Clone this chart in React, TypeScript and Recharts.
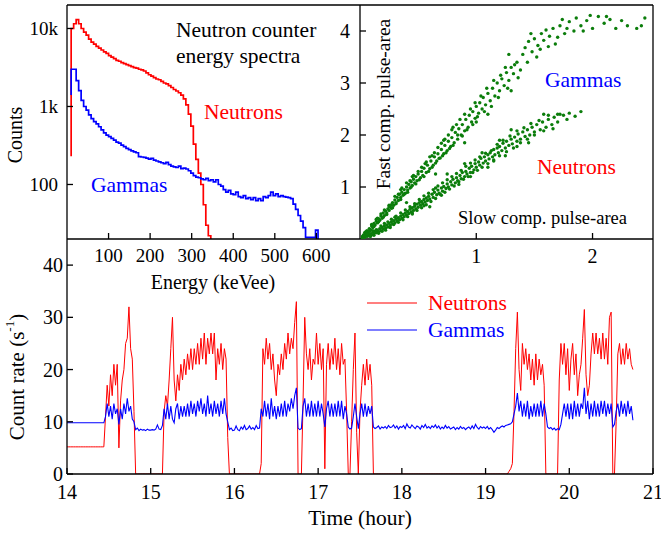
import React from "react";
import { LineChart, Line, ScatterChart, Scatter, XAxis, YAxis } from "recharts";

const SERIF = '"Liberation Serif", "Times New Roman", serif';
const W = 661;
const H = 534;
const RED = "#ff0000";
const BLUE = "#0000ff";
const GREEN = "#0b7d0b";

// ---------- energy spectra: counts per 6 keVee bin, first bin at 10 keVee
const binStart = 10;
const binWidth = 6;
const neutronEdge = 230; // level just below the threshold edge
const gammaEdge = 1400;
const neutronCounts = [
  10000, 11500, 13000, 11500, 10000, 9000, 8200, 7300, 6700, 6300,
  5900, 5600, 5300, 5000, 4800, 4500, 4300, 4100, 3900, 3800,
  3650, 3550, 3450, 3350, 3250, 3150, 3100, 3000, 2950, 2850,
  2700, 2550, 2450, 2350, 2250, 2200, 2100, 2000, 1950, 1850,
  1750, 1650, 1580, 1500, 1400, 1250, 1050, 800, 560, 330,
  210, 140, 100, 55, 30, 22, 15,
];
const gammaCounts = [
  3000, 3000, 2150, 1600, 1200, 1000, 900, 780, 700, 640,
  600, 550, 500, 460, 430, 410, 390, 370, 350, 340,
  320, 305, 290, 280, 270, 262, 255, 228, 225, 222,
  218, 212, 216, 205, 200, 195, 190, 185, 192, 180,
  172, 168, 165, 172, 160, 162, 158, 150, 140, 130,
  124, 122, 118, 115, 120, 112, 115, 108, 115, 100,
  95, 86, 80, 84, 76, 74, 80, 70, 68, 72,
  66, 68, 64, 68, 62, 66, 62, 70, 68, 72,
  80, 72, 76, 70, 72, 70, 69, 68, 66, 56,
  48, 40, 34, 28, 21, 21, 21, 21, 26, 15,
];
const energyTicks = [100, 200, 300, 400, 500, 600];
const countTicks = [100, 1000, 10000];

// ---------- pulse-shape discrimination scatter [slow, fast]
const gammaPulses: [number, number][] = [
  [0.02, 0.05], [0.03, 0.08], [0.04, 0.12], [0.05, 0.1], [0.06, 0.16], [0.07, 0.14], [0.08, 0.2], [0.09, 0.18],
  [0.1, 0.25], [0.11, 0.22], [0.12, 0.3], [0.13, 0.27], [0.14, 0.34], [0.15, 0.31], [0.16, 0.39], [0.17, 0.36],
  [0.18, 0.44], [0.19, 0.4], [0.2, 0.5], [0.21, 0.45], [0.22, 0.54], [0.23, 0.5], [0.24, 0.58], [0.25, 0.55],
  [0.26, 0.64], [0.27, 0.59], [0.28, 0.7], [0.29, 0.65], [0.3, 0.75], [0.31, 0.7], [0.32, 0.8], [0.33, 0.74],
  [0.34, 0.86], [0.35, 0.8], [0.36, 0.9], [0.37, 0.84], [0.38, 0.95], [0.39, 0.88], [0.4, 1.0], [0.41, 0.94],
  [0.42, 1.05], [0.43, 0.98], [0.44, 1.1], [0.45, 1.03], [0.46, 1.15], [0.47, 1.08], [0.48, 1.2], [0.49, 1.12],
  [0.5, 1.25], [0.52, 1.18], [0.53, 1.3], [0.54, 1.22], [0.55, 1.36], [0.57, 1.28], [0.58, 1.42], [0.6, 1.35],
  [0.61, 1.5], [0.63, 1.42], [0.64, 1.58], [0.66, 1.5], [0.67, 1.64], [0.69, 1.56], [0.7, 1.72], [0.72, 1.64],
  [0.73, 1.8], [0.75, 1.7], [0.76, 1.88], [0.78, 1.78], [0.79, 1.95], [0.81, 1.85], [0.82, 2.05], [0.84, 1.92],
  [0.85, 2.12], [0.87, 2.0], [0.88, 2.2], [0.9, 2.08], [0.91, 2.3], [0.93, 2.15], [0.94, 2.38], [0.96, 2.25],
  [0.97, 2.45], [0.99, 2.32], [1.0, 2.55], [1.02, 2.42], [1.03, 2.62], [1.05, 2.5], [1.06, 2.72], [1.08, 2.58],
  [1.1, 2.8], [1.12, 2.66], [1.14, 2.9], [1.16, 2.75], [1.18, 3.0], [1.2, 2.85], [1.22, 3.08], [1.24, 2.95],
  [1.26, 3.2], [1.28, 3.05], [1.3, 3.3], [1.32, 3.18], [1.35, 3.4], [1.38, 3.25], [1.4, 3.55], [1.42, 3.68],
  [1.45, 3.8], [1.48, 3.6], [1.5, 3.85], [1.53, 3.72], [1.56, 3.95], [1.58, 3.82], [1.6, 4.02], [1.63, 3.9],
  [1.66, 4.05], [1.68, 3.75], [1.72, 4.1], [1.76, 3.95], [1.8, 4.18], [1.84, 4.0], [1.86, 4.25], [1.9, 4.1],
  [1.95, 4.2], [2.0, 4.05], [2.05, 4.28], [2.1, 4.15], [2.15, 4.22], [2.2, 4.05], [2.3, 4.1], [2.45, 4.25],
  [2.42, 4.1], [1.28, 3.55], [1.1, 2.4], [0.9, 1.85], [0.65, 1.25], [1.3, 2.85], [1.25, 3.3], [0.56, 1.45],
  [0.45, 1.2], [0.35, 0.95], [0.62, 1.6], [0.8, 2.15], [1.0, 2.25], [0.72, 1.9], [0.25, 0.65], [0.15, 0.4],
  [0.05, 0.14], [0.08, 0.15], [0.1, 0.28], [0.12, 0.24], [0.14, 0.38], [0.16, 0.33], [0.18, 0.48], [0.2, 0.42],
  [0.21, 0.56], [0.23, 0.47], [0.25, 0.62], [0.27, 0.66], [0.28, 0.6], [0.3, 0.82], [0.31, 0.68], [0.33, 0.86],
  [0.35, 0.76], [0.36, 0.98], [0.38, 0.86], [0.4, 1.08], [0.41, 0.9], [0.43, 1.12], [0.44, 1.0], [0.46, 1.22],
  [0.48, 1.06], [0.5, 1.3], [0.51, 1.14], [0.53, 1.38], [0.55, 1.2], [0.57, 1.48], [0.59, 1.3], [0.6, 1.58],
  [0.62, 1.38], [0.64, 1.66], [0.65, 1.46], [0.67, 1.76], [0.68, 1.55], [0.7, 1.84], [0.71, 1.6], [0.73, 1.92],
  [0.74, 1.66], [0.76, 2.0], [0.77, 1.74], [0.79, 2.1], [0.8, 1.8], [0.83, 2.2], [0.84, 2.0], [0.86, 2.3],
  [0.88, 1.98], [0.9, 2.4], [0.92, 2.1], [0.95, 2.5], [0.97, 2.2], [0.99, 2.62], [1.01, 2.35], [1.04, 2.75],
  [1.07, 2.45], [1.09, 2.9], [1.13, 2.55], [1.15, 3.05], [1.19, 2.72], [1.21, 3.15], [1.27, 2.9], [1.33, 3.35],
  [1.36, 3.1], [1.44, 3.4], [1.52, 3.5], [1.62, 3.7], [1.7, 3.88], [1.78, 4.05], [1.92, 4.0], [2.12, 4.28],
  [2.25, 4.2], [2.38, 4.05], [1.55, 3.65], [1.47, 3.95], [1.74, 4.22], [1.98, 4.3],
];
const neutronPulses: [number, number][] = [
  [0.02, 0.02], [0.03, 0.05], [0.04, 0.03], [0.05, 0.07], [0.06, 0.05], [0.07, 0.09], [0.08, 0.06], [0.09, 0.1],
  [0.1, 0.08], [0.11, 0.13], [0.12, 0.1], [0.13, 0.15], [0.14, 0.12], [0.15, 0.17], [0.16, 0.14], [0.17, 0.2],
  [0.18, 0.16], [0.19, 0.22], [0.2, 0.19], [0.21, 0.25], [0.22, 0.21], [0.23, 0.27], [0.24, 0.23], [0.25, 0.3],
  [0.26, 0.26], [0.27, 0.33], [0.28, 0.29], [0.29, 0.35], [0.3, 0.31], [0.31, 0.38], [0.32, 0.34], [0.33, 0.41],
  [0.34, 0.37], [0.35, 0.44], [0.36, 0.4], [0.37, 0.47], [0.38, 0.43], [0.39, 0.5], [0.4, 0.46], [0.41, 0.53],
  [0.42, 0.49], [0.43, 0.57], [0.44, 0.52], [0.45, 0.6], [0.46, 0.55], [0.47, 0.63], [0.48, 0.58], [0.49, 0.67],
  [0.5, 0.61], [0.51, 0.7], [0.52, 0.65], [0.53, 0.72], [0.54, 0.68], [0.55, 0.76], [0.56, 0.71], [0.57, 0.79],
  [0.58, 0.74], [0.59, 0.82], [0.6, 0.77], [0.62, 0.86], [0.63, 0.8], [0.64, 0.9], [0.66, 0.85], [0.67, 0.94],
  [0.68, 0.88], [0.7, 0.98], [0.71, 0.92], [0.72, 1.01], [0.74, 0.97], [0.75, 1.06], [0.76, 1.0], [0.78, 1.1],
  [0.79, 1.04], [0.8, 1.15], [0.82, 1.08], [0.83, 1.18], [0.84, 1.12], [0.86, 1.22], [0.87, 1.16], [0.88, 1.28],
  [0.9, 1.2], [0.91, 1.3], [0.92, 1.25], [0.94, 1.36], [0.95, 1.28], [0.96, 1.4], [0.98, 1.33], [0.99, 1.45],
  [1.0, 1.38], [1.02, 1.48], [1.03, 1.42], [1.04, 1.55], [1.06, 1.46], [1.07, 1.58], [1.08, 1.5], [1.1, 1.62],
  [1.11, 1.54], [1.12, 1.66], [1.14, 1.58], [1.15, 1.72], [1.16, 1.62], [1.18, 1.75], [1.19, 1.66], [1.2, 1.78],
  [1.22, 1.7], [1.23, 1.84], [1.25, 1.75], [1.26, 1.88], [1.28, 1.8], [1.3, 1.92], [1.31, 1.83], [1.33, 1.96],
  [1.35, 1.88], [1.36, 2.02], [1.38, 1.92], [1.4, 2.06], [1.42, 1.97], [1.44, 2.1], [1.46, 2.0], [1.48, 2.15],
  [1.5, 2.06], [1.52, 2.2], [1.55, 2.1], [1.57, 2.25], [1.6, 2.15], [1.62, 2.3], [1.65, 2.2], [1.67, 2.34],
  [1.7, 2.25], [1.72, 2.4], [1.75, 2.38], [1.8, 2.42], [1.85, 2.36], [0.4, 0.7], [0.6, 0.62], [0.9, 1.45],
  [1.25, 1.6], [1.1, 1.38], [0.75, 1.25], [1.45, 1.85], [1.3, 2.1], [0.3, 0.42], [0.45, 0.5], [0.55, 0.64],
  [0.65, 0.98], [0.7, 0.84], [0.85, 1.05], [0.95, 1.2], [1.05, 1.66], [1.15, 1.5], [1.2, 1.9], [1.35, 1.78],
  [0.06, 0.1], [0.09, 0.05], [0.11, 0.16], [0.12, 0.07], [0.14, 0.18], [0.16, 0.11], [0.18, 0.25], [0.19, 0.15],
  [0.21, 0.3], [0.22, 0.17], [0.24, 0.33], [0.26, 0.22], [0.27, 0.38], [0.29, 0.28], [0.31, 0.44], [0.33, 0.32],
  [0.35, 0.5], [0.37, 0.37], [0.39, 0.56], [0.41, 0.43], [0.43, 0.62], [0.45, 0.48], [0.47, 0.68], [0.49, 0.55],
  [0.51, 0.76], [0.53, 0.6], [0.55, 0.83], [0.57, 0.66], [0.59, 0.88], [0.61, 0.72], [0.63, 0.95], [0.65, 0.78],
  [0.67, 1.02], [0.69, 0.86], [0.71, 1.08], [0.73, 0.9], [0.75, 1.14], [0.77, 0.96], [0.79, 1.2], [0.81, 1.02],
  [0.83, 1.26], [0.85, 1.1], [0.87, 1.32], [0.89, 1.15], [0.91, 1.4], [0.93, 1.2], [0.95, 1.46], [0.97, 1.28],
  [0.99, 1.52], [1.01, 1.32], [1.03, 1.58], [1.05, 1.38], [1.08, 1.65], [1.1, 1.45], [1.13, 1.7], [1.15, 1.52],
  [1.18, 1.82], [1.2, 1.6], [1.23, 1.9], [1.26, 1.68], [1.29, 1.98], [1.32, 1.75], [1.35, 2.08], [1.38, 1.85],
  [1.41, 2.14], [1.44, 1.92], [1.47, 2.22], [1.5, 2.0], [1.54, 2.28], [1.58, 2.08], [1.62, 2.38], [1.66, 2.12],
  [1.7, 2.4], [1.78, 2.3], [1.9, 2.45], [1.58, 2.4],
];
const slowTicks = [1, 2];
const fastTicks = [1, 2, 3, 4];

// ---------- count rate, one sample every 0.02 h from 14.00 h
const rateStart = 14;
const rateStep = 0.02;
const neutronRate = [
  5.2, 5.2, 5.2, 5.2, 5.2, 5.2, 5.2, 5.2, 5.2, 5.2, // 14.0
  5.2, 5.2, 5.2, 5.2, 5.2, 5.2, 5.2, 5.2, 5.2, 5.2, // 14.2
  5.2, 5.2, 5.2, 11, 17, 13, 19, 15, 21, 17, // 14.4
  21, 5, 14, 18, 20, 25, 26, 32, 24, 22, // 14.6
  12, 0, 0, 0, 0, 0, 0, 0, 0, 0, // 14.8
  0, 0, 0, 0, 0, 0, 0, 0, 12, 15, // 15.0
  13, 18, 24, 30, 18, 14, 19, 16, 21, 18, // 15.2
  22, 19, 23, 20, 24, 20, 24, 21, 25, 21, // 15.4
  26, 22, 27, 21, 26, 23, 27, 23, 27, 18, // 15.6
  24, 21, 25, 20, 24, 22, 7, 0, 0, 0, // 15.8
  0, 0, 0, 0, 0, 0, 0, 0, 0, 0, // 16.0
  0, 0, 0, 0, 0, 0, 2, 24, 21, 26, // 16.2
  22, 25, 20, 23, 18, 15, 21, 19, 23, 20, // 16.4
  25, 22, 27, 23, 26, 24, 29, 33, 0, 0, // 16.6
  0, 14, 30, 23, 20, 24, 18, 22, 21, 27, // 16.8
  21, 25, 20, 24, 1, 21, 25, 20, 24, 21, // 17.0
  26, 20, 24, 19, 25, 21, 22, 12, 0, 0, // 17.2
  10, 20, 27, 8, 0, 12, 17, 21, 17, 22, // 17.4
  18, 21, 17, 0, 0, 0, 0, 0, 0, 0, // 17.6
  0, 0, 0, 0, 0, 0, 0, 0, 0, 0, // 17.8
  0, 0, 0, 0, 0, 0, 0, 0, 0, 0, // 18.0
  0, 0, 0, 0, 0, 0, 0, 0, 0, 0, // 18.2
  0, 0, 0, 0, 0, 0, 0, 0, 0, 0, // 18.4
  0, 0, 0, 0, 0, 0, 0, 0, 0, 0, // 18.6
  0, 0, 0, 0, 0, 0, 0, 0, 0, 0, // 18.8
  0, 0, 0, 0, 0, 0, 0, 0, 0, 0, // 19.0
  0, 0, 0, 0, 0.5, 1, 2, 12, 24, 31, // 19.2
  20, 16, 25, 21, 24, 20, 23, 18, 22, 17, // 19.4
  23, 18, 22, 19, 21, 17, 0, 0, 0, 0, // 19.6
  0, 0, 0, 0, 18, 25, 21, 25, 19, 24, // 19.8
  16, 22, 25, 19, 23, 15, 19, 21, 26, 31.5, // 20.0
  19, 15, 17, 23, 27, 23, 27, 23, 26, 22, // 20.2
  27, 22, 26, 21, 30, 31, 0, 0, 10, 23, // 20.4
  25, 21, 24, 21, 25, 22, 24, 21, 20, // 20.6
];
const gammaRate = [
  9.8, 9.8, 9.8, 9.8, 9.8, 9.8, 9.8, 9.8, 9.8, 9.8, // 14.0
  9.8, 9.8, 9.8, 9.8, 9.8, 9.8, 9.8, 9.8, 9.8, 9.8, // 14.2
  9.8, 9.8, 9.8, 11, 13.5, 11, 13, 10.5, 13.5, 11.5, // 14.4
  12.5, 9.5, 12.5, 10.5, 13.5, 11.5, 14.5, 12, 13, 10.5, // 14.6
  10, 8.5, 8.8, 8.3, 8.6, 8.4, 8.5, 8.3, 8.6, 8.4, // 14.8
  8.4, 8.5, 8.4, 8.6, 9.4, 8.6, 8.5, 9.3, 12.5, 10.5, // 15.0
  13.5, 10.5, 13, 10.5, 9.8, 12.5, 13.5, 10.5, 13, 11, // 15.2
  13, 11, 13.5, 11, 14, 11.5, 13.5, 11, 14, 12, // 15.4
  14.5, 11.5, 13.5, 11, 15, 11.5, 13.5, 11, 14, 11.5, // 15.6
  13.5, 11, 14, 11.5, 14.5, 11.5, 10, 8.5, 8.8, 8.3, // 15.8
  8.4, 9.2, 8.5, 8.3, 9.0, 8.6, 9.3, 8.5, 8.7, 9.2, // 16.0
  8.6, 8.9, 8.5, 9.3, 8.7, 8.8, 12.5, 11, 14, 11, // 16.2
  13.5, 10.5, 14.5, 11, 13, 10.5, 13, 11, 13.5, 11, // 16.4
  14, 11, 13.5, 12, 14.5, 12.5, 15, 16.5, 8.8, 8.5, // 16.6
  8.7, 13, 14.5, 11, 13.5, 11, 14, 11, 13.5, 11, // 16.8
  14, 11, 13.5, 11.5, 9, 12.5, 14, 11, 13.5, 11, // 17.0
  13.5, 11, 14, 11, 14, 10.5, 13, 11.5, 9, 8.6, // 17.2
  8.8, 11, 13.5, 11, 8.7, 11.5, 13.5, 11, 13.5, 11, // 17.4
  13, 11.5, 13, 9, 8.7, 8.9, 9.2, 8.6, 9.0, 8.8, // 17.6
  9.1, 8.7, 9.3, 8.9, 9.0, 9.4, 8.8, 9.2, 8.6, 9.1, // 17.8
  8.9, 9.3, 8.7, 9.6, 9.0, 8.8, 9.4, 9.0, 8.7, 9.2, // 18.0
  9.0, 8.6, 9.3, 8.9, 9.5, 8.8, 9.1, 8.7, 9.2, 8.9, // 18.2
  9.4, 8.8, 9.2, 8.6, 9.0, 8.7, 9.3, 8.8, 9.1, 8.6, // 18.4
  8.8, 9.0, 8.5, 8.9, 8.6, 9.1, 8.7, 8.9, 8.5, 8.8, // 18.6
  9.0, 8.6, 9.2, 8.7, 9.5, 8.9, 8.6, 9.1, 8.8, 9.0, // 18.8
  8.7, 9.1, 8.6, 8.9, 8.5, 8.0, 8.4, 8.9, 8.7, 9.0, // 19.0
  9.2, 9.0, 9.3, 9.4, 9.5, 9.6, 10, 11.5, 13, 15.5, // 19.2
  12, 14, 11, 13.5, 11, 14, 10.5, 13, 11, 13.5, // 19.4
  11, 13.5, 11, 14, 11, 13.5, 11.5, 9, 8.7, 8.9, // 19.6
  8.5, 8.8, 8.4, 8.7, 8.5, 9.5, 11.5, 13.5, 11, 13.5, // 19.8
  10.5, 13.5, 10.5, 14, 11, 13.5, 11, 13.5, 12.5, 16.5, // 20.0
  11.5, 14, 10.5, 13.5, 11, 14, 11, 13.5, 11, 14, // 20.2
  11.5, 14, 11, 13.5, 11.5, 13.5, 9, 9.5, 12, 13.5, // 20.4
  11, 14, 11.5, 13.5, 11, 14, 11.5, 13, 10.3, // 20.6
];
const hourTicks = [14, 15, 16, 17, 18, 19, 20, 21];
const rateTicks = [0, 10, 20, 30, 40];

// ---------- derived chart data
function histogram(counts: number[], edge: number) {
  const pts = [{ e: binStart, c: edge }];
  counts.forEach((c, i) => pts.push({ e: binStart + i * binWidth, c }));
  pts.push({ e: binStart + counts.length * binWidth, c: counts[counts.length - 1] });
  return pts;
}
const neutronSpectrum = histogram(neutronCounts, neutronEdge);
const gammaSpectrum = histogram(gammaCounts, gammaEdge);
const toPoints = (list: [number, number][]) => list.map(([x, y]) => ({ x, y }));
const rateData = neutronRate.map((n, i) => ({
  t: rateStart + i * rateStep,
  n,
  g: gammaRate[i],
}));

const frame = { stroke: "#000", strokeWidth: 1.3 };
const tickText = (size: number) => ({ fontSize: size, fill: "#000", fontFamily: SERIF });
const fmtCount = (v: number) => (v >= 10000 ? "10k" : v >= 1000 ? "1k" : String(v));
const dot = (p: any) => <circle cx={p.cx} cy={p.cy} r={1.7} fill={GREEN} />;

const layer: React.CSSProperties = { position: "absolute", left: 0, top: 0 };

function SpectraChart() {
  return (
    <div style={layer}>
      <LineChart width={W} height={H} margin={{ top: 4, right: 301, bottom: 294, left: 66 }}>
        <XAxis type="number" dataKey="e" domain={[0, 705]} ticks={energyTicks} interval={0} height={1}
          allowDataOverflow tickSize={-6} tickMargin={16} axisLine={frame} tickLine={frame} tick={tickText(19)} />
        <XAxis xAxisId="top" orientation="top" type="number" dataKey="e" domain={[0, 705]} ticks={energyTicks}
          interval={0} height={1} allowDataOverflow tickSize={-6} axisLine={frame} tickLine={frame} tick={false} />
        <YAxis type="number" scale="log" domain={[20, 20000]} ticks={countTicks} interval={0} width={1}
          allowDataOverflow tickSize={-6} tickMargin={15} tickFormatter={fmtCount} axisLine={frame}
          tickLine={frame} tick={tickText(19)} />
        <Line data={neutronSpectrum} dataKey="c" type="stepAfter" stroke={RED} strokeWidth={1.7}
          dot={false} isAnimationActive={false} />
        <Line data={gammaSpectrum} dataKey="c" type="stepAfter" stroke={BLUE} strokeWidth={1.7}
          dot={false} isAnimationActive={false} />
      </LineChart>
    </div>
  );
}

function PulseChart() {
  return (
    <div style={layer}>
      <ScatterChart width={W} height={H} margin={{ top: 4, right: 7, bottom: 294, left: 359 }}>
        <XAxis type="number" dataKey="x" domain={[0, 2.52]} ticks={slowTicks} interval={0} height={1}
          allowDataOverflow tickSize={-6} tickMargin={16} axisLine={frame} tickLine={frame} tick={tickText(20)} />
        <XAxis xAxisId="top" orientation="top" type="number" dataKey="x" domain={[0, 2.52]} ticks={slowTicks}
          interval={0} height={1} allowDataOverflow tickSize={-6} axisLine={frame} tickLine={frame} tick={false} />
        <YAxis type="number" dataKey="y" domain={[0, 4.5]} ticks={fastTicks} interval={0} width={1}
          allowDataOverflow tickSize={-6} tickMargin={16} axisLine={frame} tickLine={frame} tick={tickText(20)} />
        <YAxis yAxisId="right" orientation="right" type="number" dataKey="y" domain={[0, 4.5]} ticks={fastTicks}
          interval={0} width={1} allowDataOverflow tickSize={-6} axisLine={frame} tickLine={frame} tick={false} />
        <Scatter data={toPoints(gammaPulses)} shape={dot} isAnimationActive={false} />
        <Scatter data={toPoints(neutronPulses)} shape={dot} isAnimationActive={false} />
      </ScatterChart>
    </div>
  );
}

function RateChart() {
  return (
    <div style={layer}>
      <LineChart width={W} height={H} data={rateData} margin={{ top: 239, right: 7, bottom: 59, left: 66 }}>
        <XAxis type="number" dataKey="t" domain={[14, 21]} ticks={hourTicks} interval={0} height={1}
          allowDataOverflow tickSize={-6} tickMargin={17} axisLine={frame} tickLine={frame} tick={tickText(20)} />
        <YAxis type="number" domain={[0, 45]} ticks={rateTicks} interval={0} width={1} allowDataOverflow
          tickSize={-6} tickMargin={10} axisLine={frame} tickLine={frame} tick={tickText(20)} />
        <YAxis yAxisId="right" orientation="right" type="number" domain={[0, 45]} ticks={rateTicks} interval={0}
          width={1} allowDataOverflow tickSize={-6} axisLine={frame} tickLine={frame} tick={false} />
        <Line dataKey="n" type="linear" stroke={RED} strokeWidth={1} dot={false} isAnimationActive={false} />
        <Line dataKey="g" type="linear" stroke={BLUE} strokeWidth={1.1} dot={false} isAnimationActive={false} />
      </LineChart>
    </div>
  );
}

function Annotations() {
  const t = { fontFamily: SERIF, dominantBaseline: "central" as const };
  return (
    <svg width={W} height={H} style={{ ...layer, pointerEvents: "none" }}>
      <text {...t} x={15} y={135} fontSize={20} textAnchor="middle" transform="rotate(-90 15 135)">Counts</text>
      <text {...t} x={176} y={30} fontSize={21.5}>Neutron counter</text>
      <text {...t} x={176} y={56} fontSize={21.5}>energy spectra</text>
      <text {...t} x={204} y={112} fontSize={21.5} fill={RED}>Neutrons</text>
      <text {...t} x={91} y={185} fontSize={21.5} fill={BLUE}>Gammas</text>
      <text {...t} x={213} y={282} fontSize={20} textAnchor="middle">Energy (keVee)</text>

      <text {...t} x={383} y={104} fontSize={19.5} textAnchor="middle" transform="rotate(-90 383 104)">
        Fast comp. pulse-area
      </text>
      <text {...t} x={545} y={80} fontSize={21.5} fill={BLUE}>Gammas</text>
      <text {...t} x={537} y={167} fontSize={21.5} fill={RED}>Neutrons</text>
      <text {...t} x={458} y={218} fontSize={18.5}>Slow comp. pulse-area</text>

      <text {...t} x={17} y={377} fontSize={21} textAnchor="middle" transform="rotate(-90 17 377)">
        Count rate (s<tspan fontSize={13} dy={-8}>-1</tspan><tspan dy={8}>)</tspan>
      </text>
      <text {...t} x={360} y={518} fontSize={21.5} textAnchor="middle">Time (hour)</text>

      <line x1={367} x2={417} y1={303} y2={303} stroke={RED} strokeWidth={1.2} />
      <text {...t} x={428} y={303} fontSize={21.5} fill={RED}>Neutrons</text>
      <line x1={367} x2={417} y1={330} y2={330} stroke={BLUE} strokeWidth={1.2} />
      <text {...t} x={428} y={330} fontSize={21.5} fill={BLUE}>Gammas</text>
    </svg>
  );
}

export default function App() {
  return (
    <div style={{ position: "absolute", left: 0, top: 0, width: W, height: H, background: "#fff", fontFamily: SERIF }}>
      <RateChart />
      <SpectraChart />
      <PulseChart />
      <Annotations />
    </div>
  );
}
